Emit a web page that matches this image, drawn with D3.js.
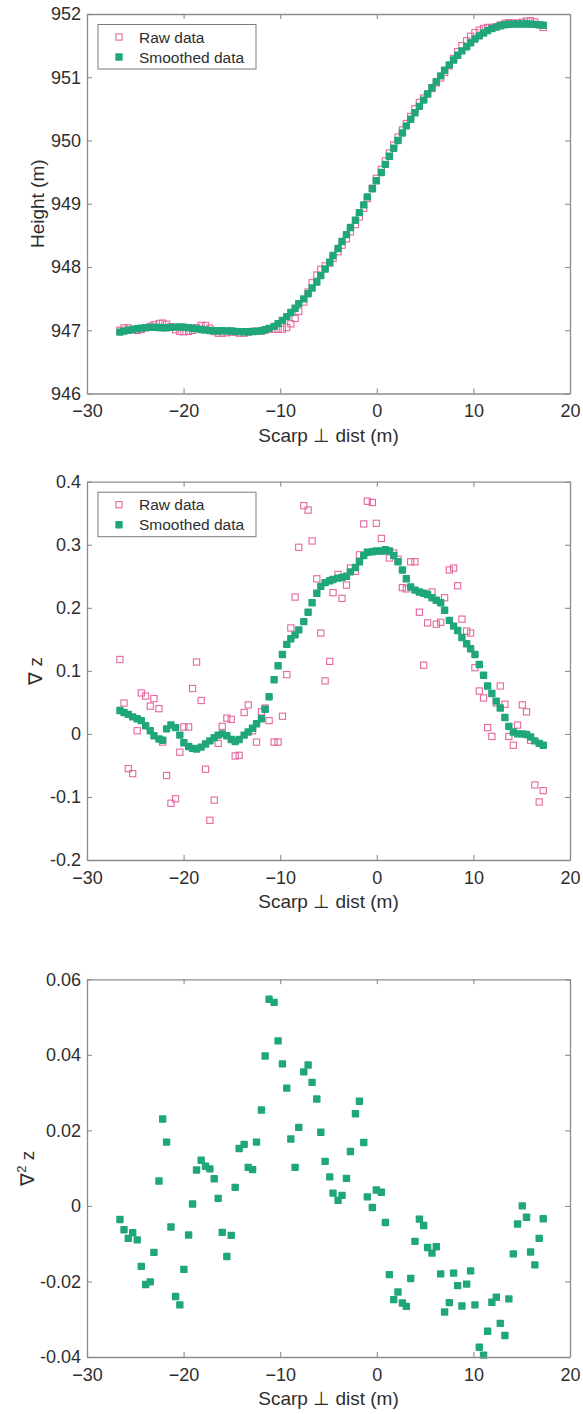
<!DOCTYPE html>
<html>
<head>
<meta charset="utf-8">
<script src="https://cdn.jsdelivr.net/npm/d3@7"></script>
<style>
  html, body { margin: 0; padding: 0; background: #fff; }
  svg { display: block; }
  text { font-family: "Liberation Sans", Arial, Helvetica, sans-serif; fill: #2e2e2e; }
</style>
</head>
<body>
<svg id="chart" width="583" height="1414"></svg>
<script>
// Distance perpendicular to the scarp (m), one value per profile sample
const distM = [
  -26.59, -26.17, -25.73, -25.27, -24.80, -24.38, -23.93, -23.45, -23.07, -22.55,
  -22.17, -21.76, -21.31, -20.83, -20.39, -19.97, -19.48, -19.07, -18.66, -18.18,
  -17.73, -17.28, -16.83, -16.42, -16.00, -15.52, -15.07, -14.66, -14.25, -13.73,
  -13.31, -12.86, -12.45, -11.94, -11.56, -11.15, -10.63, -10.22, -9.77, -9.32,
  -8.90, -8.46, -8.08, -7.56, -7.11, -6.70, -6.21, -5.80, -5.35, -4.87,
  -4.53, -4.01, -3.60, -3.14, -2.73, -2.21, -1.80, -1.35, -0.98, -0.46,
  -0.05, 0.47, 0.89, 1.30, 1.75, 2.19, 2.65, 3.06, 3.51, 3.95,
  4.41, 4.85, 5.26, 5.71, 6.16, 6.61, 7.02, 7.51, 7.95, 8.37,
  8.81, 9.30, 9.71, 10.16, 10.61, 11.05, 11.47, 11.91, 12.37, 12.78,
  13.26, 13.67, 14.13, 14.57, 15.06, 15.50, 15.92, 16.36, 16.81, 17.23
];

// Elevation along the profile (m)
const heightRaw = [
  947.000, 947.037, 947.036, 947.010, 946.997, 947.013, 947.040, 947.063, 947.085, 947.107,
  947.113, 947.095, 947.056, 947.009, 946.980, 946.976, 946.981, 946.999, 947.040, 947.077,
  947.076, 947.034, 946.980, 946.953, 946.953, 946.961, 946.972, 946.969, 946.954, 946.954,
  946.972, 946.983, 946.981, 946.986, 947.003, 947.017, 947.019, 947.013, 947.016, 947.043,
  947.101, 947.186, 947.300, 947.446, 947.605, 947.751, 947.873, 947.963, 948.017, 948.061,
  948.136, 948.242, 948.345, 948.445, 948.556, 948.671, 948.791, 948.928, 949.083, 949.246,
  949.402, 949.544, 949.677, 949.803, 949.928, 950.053, 950.166, 950.268, 950.380, 950.501,
  950.604, 950.671, 950.734, 950.823, 950.911, 950.989, 951.076, 951.181, 951.297, 951.407,
  951.500, 951.576, 951.648, 951.706, 951.745, 951.772, 951.787, 951.788, 951.798, 951.826,
  951.853, 951.863, 951.858, 951.857, 951.870, 951.888, 951.894, 951.874, 951.832, 951.788
];
const heightSmooth = [
  946.970, 946.986, 947.000, 947.013, 947.024, 947.034, 947.042, 947.046, 947.046, 947.044,
  947.040, 947.040, 947.045, 947.050, 947.052, 947.048, 947.041, 947.031, 947.021, 947.011,
  947.003, 946.997, 946.993, 946.991, 946.991, 946.990, 946.988, 946.983, 946.978, 946.976,
  946.976, 946.979, 946.984, 946.993, 947.007, 947.029, 947.061, 947.104, 947.156, 947.215,
  947.280, 947.348, 947.420, 947.496, 947.578, 947.667, 947.762, 947.863, 947.968, 948.075,
  948.183, 948.292, 948.402, 948.512, 948.624, 948.740, 948.859, 948.982, 949.108, 949.236,
  949.364, 949.493, 949.622, 949.751, 949.878, 950.001, 950.119, 950.231, 950.337, 950.439,
  950.540, 950.639, 950.737, 950.834, 950.929, 951.022, 951.111, 951.195, 951.272, 951.347,
  951.417, 951.482, 951.544, 951.602, 951.654, 951.699, 951.737, 951.768, 951.793, 951.814,
  951.829, 951.837, 951.840, 951.841, 951.841, 951.841, 951.840, 951.836, 951.830, 951.823
];

// Slope of the profile
const gradRaw = [
  0.118, 0.049, -0.055, -0.063, 0.005, 0.065, 0.060, 0.044, 0.056, 0.040,
  -0.013, -0.066, -0.110, -0.103, -0.029, 0.011, 0.011, 0.072, 0.114, 0.053,
  -0.056, -0.137, -0.105, -0.015, 0.012, 0.025, 0.023, -0.035, -0.034, 0.034,
  0.046, 0.005, -0.013, 0.035, 0.041, 0.021, -0.013, -0.013, 0.028, 0.094,
  0.168, 0.217, 0.296, 0.362, 0.355, 0.306, 0.246, 0.160, 0.084, 0.115,
  0.224, 0.253, 0.215, 0.236, 0.263, 0.258, 0.284, 0.333, 0.369, 0.367,
  0.334, 0.310, 0.290, 0.279, 0.287, 0.277, 0.232, 0.230, 0.273, 0.273,
  0.193, 0.109, 0.176, 0.225, 0.174, 0.177, 0.216, 0.260, 0.263, 0.235,
  0.182, 0.163, 0.160, 0.105, 0.068, 0.057, 0.010, -0.004, 0.049, 0.076,
  0.047, -0.004, -0.018, 0.014, 0.046, 0.035, -0.010, -0.081, -0.108, -0.090
];
const gradSmooth = [
  0.037, 0.034, 0.031, 0.027, 0.024, 0.021, 0.013, 0.005, -0.003, -0.008,
  -0.010, 0.008, 0.014, 0.010, -0.002, -0.014, -0.020, -0.023, -0.024, -0.021,
  -0.016, -0.011, -0.006, -0.002, 0.000, -0.003, -0.009, -0.012, -0.009, -0.002,
  0.003, 0.009, 0.016, 0.024, 0.039, 0.059, 0.086, 0.108, 0.126, 0.142,
  0.151, 0.157, 0.165, 0.178, 0.193, 0.208, 0.223, 0.234, 0.240, 0.243,
  0.245, 0.247, 0.248, 0.250, 0.257, 0.264, 0.273, 0.283, 0.288, 0.289,
  0.290, 0.290, 0.292, 0.290, 0.283, 0.273, 0.260, 0.246, 0.233, 0.228,
  0.225, 0.223, 0.221, 0.216, 0.212, 0.208, 0.196, 0.180, 0.171, 0.164,
  0.153, 0.143, 0.135, 0.126, 0.110, 0.093, 0.076, 0.064, 0.052, 0.041,
  0.026, 0.012, 0.003, 0.000, 0.000, -0.001, -0.005, -0.011, -0.015, -0.018
];

// Curvature of the smoothed profile
const curvature = [
  -0.0036, -0.0063, -0.0086, -0.0071, -0.0090, -0.0160, -0.0208, -0.0201, -0.0123, 0.0066,
  0.0230, 0.0169, -0.0056, -0.0240, -0.0262, -0.0168, -0.0077, 0.0005, 0.0095, 0.0121,
  0.0105, 0.0098, 0.0072, 0.0020, -0.0070, -0.0134, -0.0078, 0.0049, 0.0152, 0.0163,
  0.0102, 0.0096, 0.0169, 0.0254, 0.0397, 0.0547, 0.0539, 0.0437, 0.0376, 0.0312,
  0.0177, 0.0102, 0.0208, 0.0355, 0.0373, 0.0327, 0.0283, 0.0195, 0.0118, 0.0077,
  0.0034, 0.0015, 0.0028, 0.0073, 0.0144, 0.0244, 0.0277, 0.0168, 0.0024, -0.0004,
  0.0042, 0.0036, -0.0044, -0.0182, -0.0248, -0.0228, -0.0257, -0.0266, -0.0192, -0.0094,
  -0.0035, -0.0052, -0.0110, -0.0125, -0.0108, -0.0180, -0.0281, -0.0256, -0.0178, -0.0211,
  -0.0265, -0.0207, -0.0172, -0.0262, -0.0374, -0.0395, -0.0332, -0.0255, -0.0242, -0.0311,
  -0.0343, -0.0246, -0.0127, -0.0048, 0.0000, -0.0030, -0.0122, -0.0156, -0.0086, -0.0034
];

// Axis ticks
const distTicks = [-30, -20, -10, 0, 10, 20];
const heightTicks = [946, 947, 948, 949, 950, 951, 952];
const gradTicks = [-0.2, -0.1, 0, 0.1, 0.2, 0.3, 0.4];
const curvTicks = [-0.04, -0.02, 0, 0.02, 0.04, 0.06];
const legendLabels = ["Raw data", "Smoothed data"];

const COLOR_RAW = "#e5679f";
const COLOR_SMOOTH = "#1fa67a";
const AXIS_COLOR = "#8c8c8c";
const TICK_FONT = 18;
const LABEL_FONT = 19;
const LEGEND_FONT = 15.5;

const svg = d3.select("#chart");
const left = 87, right = 570;

function fmtTick(v) {
  if (Math.abs(v) < 1e-12) return "0";
  return String(+v.toFixed(4));
}

function drawPanel(cfg) {
  const g = svg.append("g");
  const x = d3.scaleLinear().domain([-30, 20]).range([left, right]);
  const y = d3.scaleLinear().domain(cfg.yDomain).range([cfg.bottom, cfg.top]);

  // Raw samples (open squares) beneath the smoothed ones
  if (cfg.raw) {
    const s = 6.2;
    g.append("g").selectAll("rect").data(distM.map((d, i) => [d, cfg.raw[i]]))
      .join("rect")
      .attr("x", d => x(d[0]) - s / 2)
      .attr("y", d => y(d[1]) - s / 2)
      .attr("width", s).attr("height", s)
      .attr("fill", "none")
      .attr("stroke", COLOR_RAW)
      .attr("stroke-width", 1.1);
  }
  if (cfg.smooth) {
    const s = 7.4;
    g.append("g").selectAll("rect").data(distM.map((d, i) => [d, cfg.smooth[i]]))
      .join("rect")
      .attr("x", d => x(d[0]) - s / 2)
      .attr("y", d => y(d[1]) - s / 2)
      .attr("width", s).attr("height", s)
      .attr("rx", 0.8)
      .attr("fill", COLOR_SMOOTH);
  }

  // Box axes with inward ticks on all four sides
  const bottomAxis = d3.axisBottom(x).tickValues(distTicks).tickSizeInner(-5).tickSizeOuter(0)
    .tickPadding(11).tickFormat(d3.format("d"));
  const topAxis = d3.axisTop(x).tickValues(distTicks).tickSizeInner(-5).tickSizeOuter(0).tickFormat("");
  const leftAxis = d3.axisLeft(y).tickValues(cfg.yTicks).tickSizeInner(-5).tickSizeOuter(0)
    .tickPadding(6).tickFormat(fmtTick);
  const rightAxis = d3.axisRight(y).tickValues(cfg.yTicks).tickSizeInner(-5).tickSizeOuter(0).tickFormat("");

  const axes = [
    [bottomAxis, `translate(0,${cfg.bottom})`],
    [topAxis, `translate(0,${cfg.top})`],
    [leftAxis, `translate(${left},0)`],
    [rightAxis, `translate(${right},0)`]
  ];
  axes.forEach(([ax, tr]) => {
    const a = g.append("g").attr("transform", tr).call(ax);
    a.select(".domain").attr("stroke", AXIS_COLOR).attr("stroke-width", 1.3);
    a.selectAll(".tick line").attr("stroke", AXIS_COLOR).attr("stroke-width", 1.1);
    a.selectAll(".tick text").attr("font-size", TICK_FONT).attr("fill", "#2e2e2e")
      .style("font-family", '"Liberation Sans", Arial, sans-serif');
  });

  // Axis titles
  g.append("text")
    .attr("x", (left + right) / 2).attr("y", cfg.bottom + 48)
    .attr("text-anchor", "middle").attr("font-size", LABEL_FONT)
    .text("Scarp \u22A5 dist (m)");

  const yl = g.append("text")
    .attr("transform", `translate(${cfg.yLabelX},${(cfg.top + cfg.bottom) / 2}) rotate(-90)`)
    .attr("text-anchor", "middle").attr("font-size", LABEL_FONT);
  cfg.yLabel(yl);

  // Legend
  if (cfg.legend) {
    const lx = 98, ly = cfg.top + 10.5, lw = 158, lh = 44.5;
    const lg = g.append("g");
    lg.append("rect").attr("x", lx).attr("y", ly).attr("width", lw).attr("height", lh)
      .attr("fill", "#fff").attr("stroke", "#7a7a7a").attr("stroke-width", 1);
    legendLabels.forEach((lab, i) => {
      const cy = ly + 12.5 + i * 20;
      if (i === 0) {
        lg.append("rect").attr("x", 119 - 3.1).attr("y", cy - 3.1).attr("width", 6.2).attr("height", 6.2)
          .attr("fill", "none").attr("stroke", COLOR_RAW).attr("stroke-width", 1.1);
      } else {
        lg.append("rect").attr("x", 119 - 3.7).attr("y", cy - 3.7).attr("width", 7.4).attr("height", 7.4)
          .attr("rx", 0.8).attr("fill", COLOR_SMOOTH);
      }
      lg.append("text").attr("x", 139).attr("y", cy + 5.5)
        .attr("font-size", LEGEND_FONT).text(lab);
    });
  }
}

drawPanel({
  top: 14, bottom: 393.5, yDomain: [946, 952], yTicks: heightTicks,
  raw: heightRaw, smooth: heightSmooth, legend: true, yLabelX: 44,
  yLabel: t => t.text("Height (m)")
});

drawPanel({
  top: 481.7, bottom: 860, yDomain: [-0.2, 0.4], yTicks: gradTicks,
  raw: gradRaw, smooth: gradSmooth, legend: true, yLabelX: 42,
  yLabel: t => t.text("\u2207 z")
});

drawPanel({
  top: 979.3, bottom: 1357, yDomain: [-0.04, 0.06], yTicks: curvTicks,
  raw: null, smooth: curvature, legend: false, yLabelX: 34,
  yLabel: t => {
    t.append("tspan").text("\u2207");
    t.append("tspan").attr("font-size", 13).attr("dy", -8).text("2");
    t.append("tspan").attr("dy", 8).text(" z");
  }
});
</script>
</body>
</html>
